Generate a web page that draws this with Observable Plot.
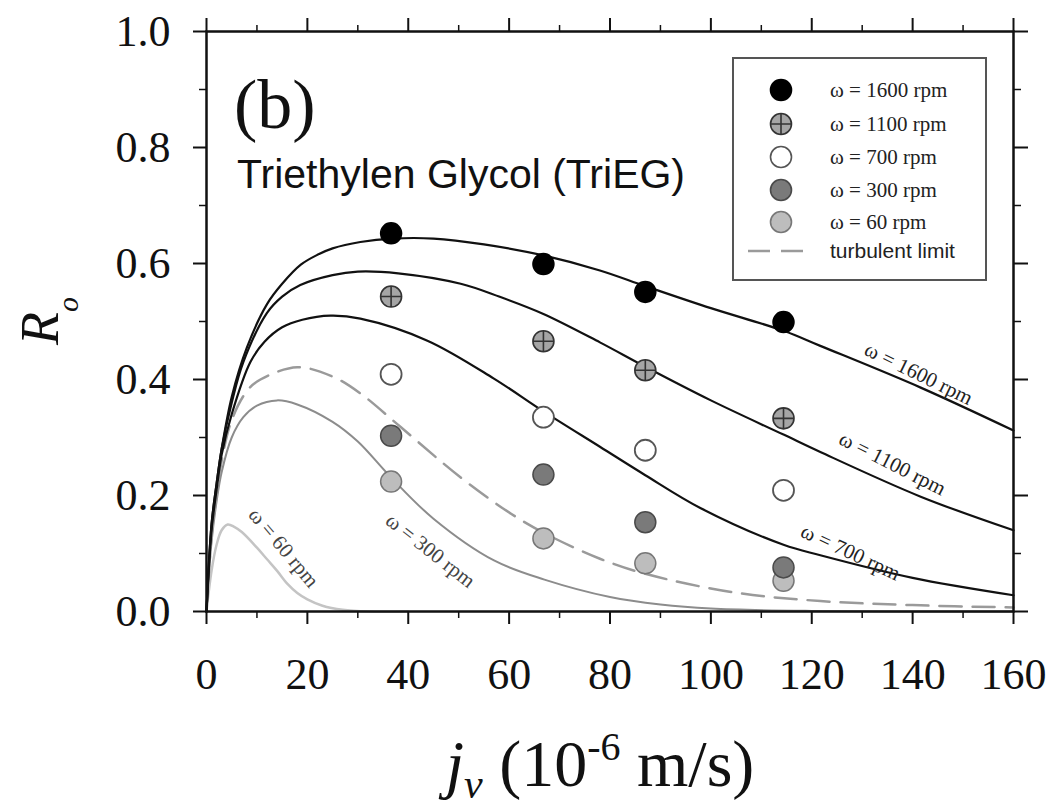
<!DOCTYPE html>
<html>
<head>
<meta charset="utf-8">
<script src="https://cdn.jsdelivr.net/npm/d3@7"></script>
<script src="https://cdn.jsdelivr.net/npm/@observablehq/plot@0.6"></script>
<style>
  html, body { margin: 0; padding: 0; background: #fff; }
  svg { display: block; }
</style>
</head>
<body>
<script>
// ---------- measured data points (j_v in 1e-6 m/s, R_o) ----------
const jData  = [36.6, 66.8, 87, 114.4];
const r1600  = [0.652, 0.599, 0.551, 0.499];
const r1100  = [0.543, 0.466, 0.416, 0.333];
const r700   = [0.409, 0.335, 0.278, 0.209];
const r300   = [0.303, 0.236, 0.154, 0.076];
const r60    = [0.224, 0.126, 0.083, 0.053];

// ---------- model curves ----------
const jC1600 = [0, 1, 2, 3, 5, 8, 12, 15, 18.7, 22, 25, 30.5, 37, 45, 55, 66.8, 78, 87, 100, 114.4, 121.7, 141.6, 160];
const rC1600 = [0, 0.15, 0.22, 0.28, 0.37, 0.455, 0.53, 0.565, 0.598, 0.615, 0.626, 0.637, 0.643, 0.643, 0.633, 0.614, 0.588, 0.561, 0.523, 0.484, 0.458, 0.386, 0.312];

const jC1100 = [0, 1, 2, 3, 5, 7.3, 12, 15, 18.6, 25, 30, 38, 50.4, 58, 66.8, 78, 87, 100, 114.4, 121.7, 141.6, 160];
const rC1100 = [0, 0.15, 0.22, 0.28, 0.36, 0.43, 0.515, 0.543, 0.563, 0.58, 0.586, 0.583, 0.565, 0.543, 0.513, 0.464, 0.422, 0.364, 0.305, 0.275, 0.198, 0.140];

const jC700  = [0, 1, 2, 3, 5, 8.7, 11.5, 15, 19, 24.6, 30.5, 43.8, 56.9, 66.8, 78, 87, 98, 114.4, 121.7, 140, 160];
const rC700  = [0, 0.14, 0.21, 0.27, 0.34, 0.43, 0.465, 0.49, 0.503, 0.51, 0.505, 0.467, 0.402, 0.345, 0.284, 0.235, 0.178, 0.115, 0.097, 0.058, 0.028];

const jTurb  = [0, 1, 2, 3, 5, 8, 10.7, 18, 25, 30.5, 38.5, 50.4, 60.3, 67, 78, 87, 104.5, 121.7, 140, 160];
const rTurb  = [0, 0.13, 0.20, 0.26, 0.33, 0.38, 0.40, 0.421, 0.405, 0.376, 0.318, 0.231, 0.169, 0.135, 0.091, 0.065, 0.033, 0.018, 0.011, 0.007];

const jC300  = [0, 1, 2, 3, 5, 7.3, 10, 14, 18, 25, 30, 36.6, 45, 57, 67, 80, 90, 100, 120, 160];
const rC300  = [0, 0.12, 0.19, 0.24, 0.30, 0.335, 0.355, 0.364, 0.357, 0.327, 0.293, 0.231, 0.16, 0.088, 0.055, 0.025, 0.012, 0.005, 0.001, 0];

const jC60   = [0, 1, 2, 3, 4.2, 5.5, 7, 10, 12, 14, 16, 18, 20, 23, 27, 32, 40];
const rC60   = [0, 0.07, 0.115, 0.14, 0.15, 0.146, 0.137, 0.11, 0.09, 0.07, 0.048, 0.032, 0.021, 0.01, 0.003, 0, 0];

// ---------- labels ----------
const legendLabels = ["ω = 1600 rpm", "ω = 1100 rpm", "ω = 700 rpm", "ω = 300 rpm", "ω = 60 rpm", "turbulent limit"];
const curveLabels  = ["ω = 1600 rpm", "ω = 1100 rpm", "ω = 700 rpm", "ω = 300 rpm", "ω = 60 rpm"];
const curveLabelJ  = [141.2, 136, 127.7, 44.4, 15.3];
const curveLabelR  = [0.410, 0.255, 0.102, 0.105, 0.110];
const xTicks = [0, 20, 40, 60, 80, 100, 120, 140, 160];
const xMinor = [10, 30, 50, 70, 90, 110, 130, 150];
const yTicks = [0, 0.2, 0.4, 0.6, 0.8, 1.0];
const yMinor = [0.1, 0.3, 0.5, 0.7, 0.9];

const toRows = (js, rs) => js.map((j, i) => ({j, r: rs[i]}));

// crosshair circle symbol
const crossCircle = {
  draw(context, size) {
    const r = Math.sqrt(size / Math.PI);
    context.moveTo(r, 0);
    context.arc(0, 0, r, 0, 2 * Math.PI);
    context.moveTo(-r, 0); context.lineTo(r, 0);
    context.moveTo(0, -r); context.lineTo(0, r);
  }
};

const serif = "'Liberation Serif', 'Times New Roman', serif";
const sans = "'Liberation Sans', Arial, sans-serif";
const DOT_R = 10.5;
const CURVE = "catmull-rom";

const chart = Plot.plot({
  width: 1052,
  height: 805,
  marginLeft: 206,
  marginRight: 39,
  marginTop: 31,
  marginBottom: 194,
  x: {domain: [0, 160]},
  y: {domain: [0, 1]},
  style: {fontFamily: serif, background: "#fff", overflow: "visible"},
  marks: [
    // curves
    Plot.line(toRows(jC60, rC60), {x: "j", y: "r", curve: CURVE, stroke: "#c4c4c4", strokeWidth: 2.5}),
    Plot.line(toRows(jC300, rC300), {x: "j", y: "r", curve: CURVE, stroke: "#8c8c8c", strokeWidth: 2}),
    Plot.line(toRows(jTurb, rTurb), {x: "j", y: "r", curve: CURVE, stroke: "#9a9a9a", strokeWidth: 2.5, strokeDasharray: "22,11"}),
    Plot.line(toRows(jC700, rC700), {x: "j", y: "r", curve: CURVE, stroke: "#111", strokeWidth: 2.2}),
    Plot.line(toRows(jC1100, rC1100), {x: "j", y: "r", curve: CURVE, stroke: "#111", strokeWidth: 2.2}),
    Plot.line(toRows(jC1600, rC1600), {x: "j", y: "r", curve: CURVE, stroke: "#111", strokeWidth: 2.2}),

    // curve labels
    Plot.text(curveLabels.slice(0, 3), {x: (d, i) => curveLabelJ[i], y: (d, i) => curveLabelR[i], text: d => d,
      rotate: (d, i) => [26, 27, 25][i], fontSize: 21, fill: "#222", fontFamily: serif}),
    Plot.text(curveLabels.slice(3), {x: (d, i) => curveLabelJ[i + 3], y: (d, i) => curveLabelR[i + 3], text: d => d,
      rotate: (d, i) => [38, 50][i], fontSize: 21, fill: "#444", fontFamily: serif}),

    // data points
    Plot.dot(toRows(jData, r60), {x: "j", y: "r", r: DOT_R, fill: "#bdbdbd", stroke: "#777", strokeWidth: 1.5}),
    Plot.dot(toRows(jData, r300), {x: "j", y: "r", r: DOT_R, fill: "#7a7a7a", stroke: "#4a4a4a", strokeWidth: 1.5}),
    Plot.dot(toRows(jData, r700), {x: "j", y: "r", r: DOT_R, fill: "#fff", stroke: "#555", strokeWidth: 1.8}),
    Plot.dot(toRows(jData, r1100), {x: "j", y: "r", r: DOT_R, symbol: crossCircle, fill: "#a5a5a5", stroke: "#333", strokeWidth: 1.6}),
    Plot.dot(toRows(jData, r1600), {x: "j", y: "r", r: DOT_R, fill: "#000", stroke: "#000"}),

    // frame
    Plot.frame({stroke: "#111", strokeWidth: 2.5}),

    // axes (major + minor, all four sides, ticks outward)
    Plot.axisX({anchor: "bottom", ticks: xTicks, tickSize: 13, tickPadding: 33, tickFormat: d => String(d),
      fontSize: 44, fontFamily: serif, fill: "#111", stroke: "#111", strokeWidth: 2, label: null}),
    Plot.axisX({anchor: "bottom", ticks: xMinor, tickSize: 7, tickFormat: () => "", strokeWidth: 1.5, stroke: "#111", label: null}),
    Plot.axisX({anchor: "top", ticks: xTicks, tickSize: 14, tickFormat: () => "", strokeWidth: 2, stroke: "#111", label: null}),
    Plot.axisX({anchor: "top", ticks: xMinor, tickSize: 7, tickFormat: () => "", strokeWidth: 1.5, stroke: "#111", label: null}),
    Plot.axisY({anchor: "left", ticks: yTicks, tickSize: 13, tickPadding: 23, tickFormat: d => d.toFixed(1),
      fontSize: 44, fontFamily: serif, fill: "#111", stroke: "#111", strokeWidth: 2, label: null}),
    Plot.axisY({anchor: "left", ticks: yMinor, tickSize: 7, tickFormat: () => "", strokeWidth: 1.5, stroke: "#111", label: null}),
    Plot.axisY({anchor: "right", ticks: yTicks, tickSize: 14, tickFormat: () => "", strokeWidth: 2, stroke: "#111", label: null}),
    Plot.axisY({anchor: "right", ticks: yMinor, tickSize: 7, tickFormat: () => "", strokeWidth: 1.5, stroke: "#111", label: null})
  ]
});

document.body.appendChild(chart);

// ---------- titles, annotations and legend ----------
const svg = d3.select(chart);

// y-axis title R_o
const yt = svg.append("text")
  .attr("transform", "translate(58,321) rotate(-90)")
  .attr("text-anchor", "middle")
  .attr("font-family", serif)
  .attr("font-size", 54)
  .attr("fill", "#111");
yt.append("tspan").attr("font-style", "italic").text("R");
yt.append("tspan").attr("font-style", "italic").attr("font-size", 30).attr("dy", 20).text("o");

// x-axis title j_v (10^-6 m/s)
const xt = svg.append("text")
  .attr("x", 600).attr("y", 786)
  .attr("text-anchor", "middle")
  .attr("font-family", serif)
  .attr("font-size", 66)
  .attr("fill", "#111");
xt.append("tspan").attr("font-style", "italic").text("j");
xt.append("tspan").attr("font-style", "italic").attr("font-size", 42).attr("dy", 12).text("v");
xt.append("tspan").attr("dy", -12).text(" (10");
xt.append("tspan").attr("font-size", 40).attr("dy", -26).text("-6");
xt.append("tspan").attr("dy", 26).text(" m/s)");

// panel letter and substance name
svg.append("text").attr("x", 234).attr("y", 128).attr("text-anchor", "start")
  .attr("font-family", serif).attr("font-size", 70).attr("fill", "#111").text("(b)");
svg.append("text").attr("x", 237).attr("y", 188).attr("text-anchor", "start")
  .attr("font-family", sans).attr("font-size", 41).attr("fill", "#111").text("Triethylen Glycol (TriEG)");

// legend
const lg = svg.append("g");
lg.append("rect").attr("x", 733).attr("y", 58).attr("width", 253).attr("height", 222)
  .attr("fill", "#fff").attr("stroke", "#555").attr("stroke-width", 2);
const rowY = [90, 124, 157, 190, 222, 251];
const symStyles = [
  {fill: "#000", stroke: "#000", cross: false},
  {fill: "#a5a5a5", stroke: "#333", cross: true},
  {fill: "#fff", stroke: "#555", cross: false},
  {fill: "#7a7a7a", stroke: "#4a4a4a", cross: false},
  {fill: "#bdbdbd", stroke: "#777", cross: false}
];
symStyles.forEach((s, i) => {
  const cy = rowY[i], cx = 781, r = DOT_R;
  lg.append("circle").attr("cx", cx).attr("cy", cy).attr("r", r)
    .attr("fill", s.fill).attr("stroke", s.stroke).attr("stroke-width", 1.6);
  if (s.cross) {
    lg.append("path").attr("d", `M${cx - r},${cy}H${cx + r}M${cx},${cy - r}V${cy + r}`)
      .attr("stroke", s.stroke).attr("stroke-width", 1.6);
  }
  lg.append("text").attr("x", 830).attr("y", cy + 7).attr("text-anchor", "start")
    .attr("font-family", serif).attr("font-size", 21).attr("fill", "#222").text(legendLabels[i]);
});
lg.append("line").attr("x1", 748).attr("x2", 804).attr("y1", rowY[5]).attr("y2", rowY[5])
  .attr("stroke", "#9a9a9a").attr("stroke-width", 2.5).attr("stroke-dasharray", "22,11");
lg.append("text").attr("x", 830).attr("y", rowY[5] + 7).attr("text-anchor", "start")
  .attr("font-family", sans).attr("font-size", 21).attr("fill", "#222").text(legendLabels[5]);
</script>
</body>
</html>
